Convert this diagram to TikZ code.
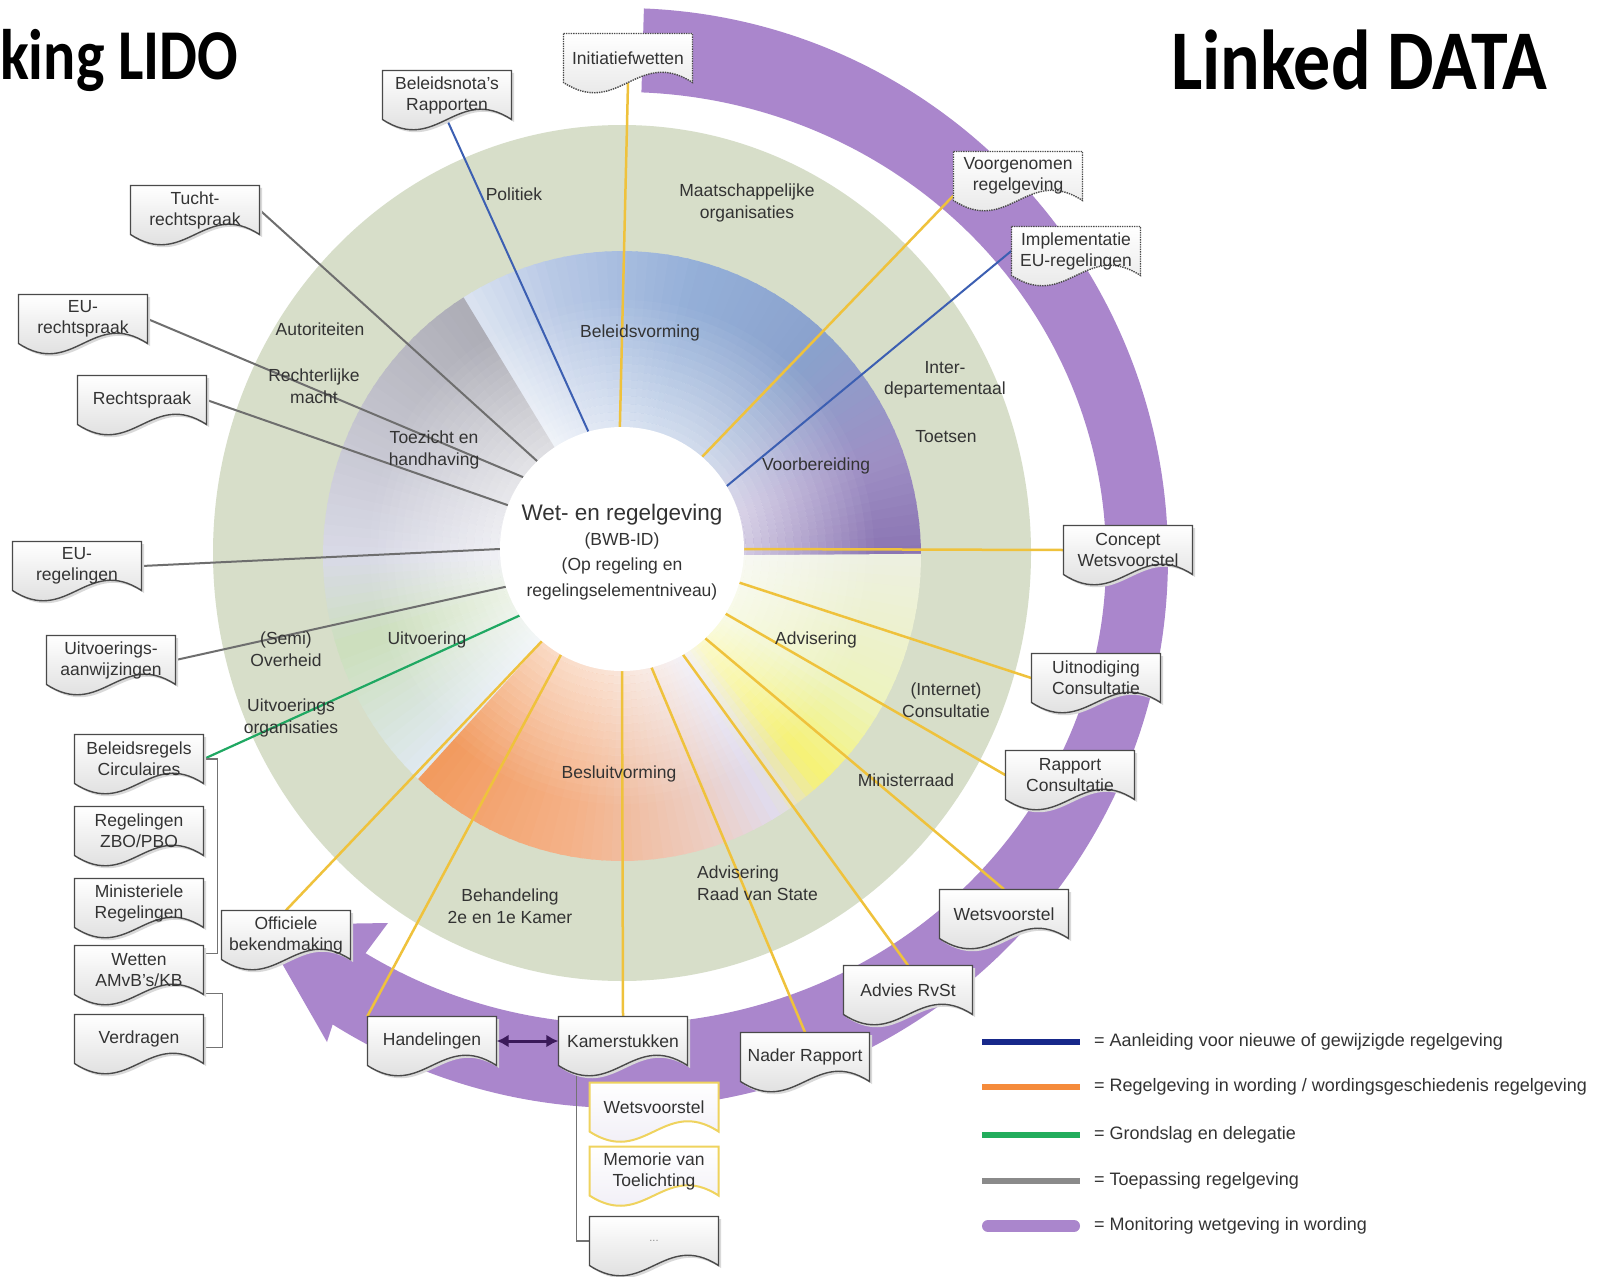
\documentclass[tikz,border=0pt]{standalone}
\usepackage{fontspec}
\setmainfont{Liberation Sans}
\newfontfamily\titlefont{Carlito}
\usetikzlibrary{arrows.meta}
\definecolor{ringgreen}{HTML}{D7DEC9}
\definecolor{monpurple}{HTML}{AA86CC}
\definecolor{linkyellow}{HTML}{EFC23C}
\definecolor{linkblue}{HTML}{3C5FB2}
\definecolor{linkgray}{HTML}{6E6E6E}
\definecolor{linkgreen}{HTML}{1FA862}
\definecolor{boxborder}{HTML}{4A4A4A}
\definecolor{docyellow}{HTML}{EFD35E}
\definecolor{lav}{HTML}{ECE9F3}
\definecolor{txt}{HTML}{333333}
\definecolor{legnavy}{HTML}{17288A}
\definecolor{legorange}{HTML}{F58B3B}
\definecolor{leggreen}{HTML}{22AD5C}
\definecolor{leggray}{HTML}{8A8A8A}
\definecolor{arrowpurple}{HTML}{3B1A5A}
\definecolor{sA}{HTML}{8A74B2}
\definecolor{sB}{HTML}{9E8FC4}
\definecolor{sC}{HTML}{8AA1CC}
\definecolor{sD}{HTML}{94AFD8}
\definecolor{sE}{HTML}{BACAE6}
\definecolor{sF}{HTML}{DCE4F1}
\definecolor{sG}{HTML}{ADADB6}
\definecolor{sH}{HTML}{C2C2CC}
\definecolor{sI}{HTML}{D9DAE7}
\definecolor{sJ}{HTML}{CCDFBC}
\definecolor{sK}{HTML}{E0E9F2}
\definecolor{sL}{HTML}{F29A5E}
\definecolor{sM}{HTML}{F4B289}
\definecolor{sN}{HTML}{ECD0C8}
\definecolor{sO}{HTML}{E0DCEF}
\definecolor{sP}{HTML}{F6F274}
\definecolor{sQ}{HTML}{EDF3BE}
\definecolor{sR}{HTML}{EDF0E0}
\pgfdeclarelayer{ringlayer}
\pgfdeclarelayer{linelayer}
\pgfsetlayers{ringlayer,linelayer,main}
\newcommand\boxfont{\fontsize{17.5}{21}\selectfont}
\newcommand\lblfont{\fontsize{17.5}{21.5}\selectfont}
\newcommand\legfont{\fontsize{18}{21}\selectfont}
\newcommand\ringseg[5]{%
  \foreach \i in {1,...,#5}{%
    \pgfmathsetmacro\segA{#1+(#2-#1)*(\i-1)/#5}%
    \pgfmathsetmacro\segB{#1+(#2-#1)*\i/#5+0.4}%
    \pgfmathtruncatemacro\segP{100*(\i-0.5)/#5}%
    \fill[#4!\segP!#3] (\segA:100pt) -- (\segA:299pt and 305pt) -- (\segB:299pt and 305pt) -- (\segB:100pt) -- cycle;
  }}
\newcommand\docbox[6]{%
  \begin{scope}[shift={(#4,-#5)}]
    \fill[#2] (-62,22) -- (67,22) -- (67,-27) .. controls (12.5,8.5) and (-7.5,-62.5) .. (-62,-27) -- cycle;
    \path[#1] (-64.5,24.5) -- (64.5,24.5) -- (64.5,-24.5) .. controls (10,11) and (-10,-60) .. (-64.5,-24.5) -- cycle;
  \end{scope}
  \node[boxtext] (#3) at (#4,-#5) {#6};
}
\begin{document}
\begin{tikzpicture}[x=1pt,y=1pt,
  docstyle/.style={draw=boxborder, line width=1.4pt, top color=white, bottom color=black!17},
  dotdoc/.style={draw=boxborder, densely dotted, line width=1.4pt, top color=white, bottom color=black!12},
  yeldoc/.style={draw=docyellow, line width=2pt, top color=white, bottom color=lav},
  shadowc/.style={fill=black!15},
  noshadow/.style={fill=none},
  boxtext/.style={minimum width=129pt, minimum height=49pt, inner sep=0pt, align=center, text=txt, font=\boxfont},
  lbl/.style={align=center, text=txt, font=\lblfont, inner sep=0pt},
  legtext/.style={anchor=west, text=txt, font=\legfont, inner sep=0pt},
  ylink/.style={draw=linkyellow, line width=2.5pt},
  blink/.style={draw=linkblue, line width=2pt},
  glink/.style={draw=linkgray, line width=2pt},
  grlink/.style={draw=linkgreen, line width=2.2pt},
  treeline/.style={draw=black!55, line width=1.3pt}]
\useasboundingbox (0,-1276) rectangle (1613,0);
\begin{pgfonlayer}{ringlayer}
  \fill[white] (0,-1276) rectangle (1613,0);
  \fill[ringgreen] (622,-553) ellipse[x radius=409pt, y radius=428pt];
  \begin{scope}[shift={(622,-556)}]
    \ringseg{0}{20}{sA}{sB}{10}
    \ringseg{20}{45}{sB}{sC}{12}
    \ringseg{45}{75}{sC}{sD}{15}
    \ringseg{75}{105}{sD}{sE}{15}
    \ringseg{105}{122}{sE}{sF}{9}
    \ringseg{122}{150}{sG}{sH}{14}
    \ringseg{150}{180}{sH}{sI}{15}
    \ringseg{180}{198}{sI}{sJ}{9}
    \ringseg{198}{227}{sJ}{sK}{15}
    \ringseg{227}{260}{sL}{sM}{16}
    \ringseg{260}{290}{sM}{sN}{15}
    \ringseg{290}{302}{sN}{sO}{6}
    \ringseg{302}{312}{sO}{sP}{5}
    \ringseg{312}{330}{sP}{sQ}{9}
    \ringseg{330}{360}{sQ}{sR}{15}
  \end{scope}
  \begin{scope}[shift={(622,-552)}]
    \foreach \rad in {100,108,...,244}{%
      \pgfmathsetmacro\radb{\rad+8}%
      \pgfmathsetmacro\op{max(0,0.6*(252-\rad)/130)}%
      \fill[white, opacity=\op, even odd rule] (0,0) circle[radius=\rad pt] (0,0) circle[radius=\radb pt];
    }
  \end{scope}
  \begin{scope}[shift={(622,-558)}]
    \fill[monpurple] (87.7:546pt and 550pt) arc[start angle=87.7, end angle=-122, x radius=546pt, y radius=550pt]
      -- (-295,-484) -- (-362,-367) -- (-234,-365)
      -- (-122:484pt and 466pt) arc[start angle=-122, end angle=87.7, x radius=484pt, y radius=466pt] -- cycle;
  \end{scope}
\end{pgfonlayer}

% centre
\node[circle, fill=white, minimum size=244pt, inner sep=0pt] (wet) at (622,-549) {};
\node[font=\fontsize{22.5}{26}\selectfont, text=txt, inner sep=0pt] (wt1) at (622,-515) {Wet- en regelgeving};
\node[font=\boxfont, text=txt, inner sep=0pt] (wt2) at (622,-541) {(BWB-ID)};
\node[font=\boxfont, text=txt, inner sep=0pt] (wt3) at (622,-566) {(Op regeling en};
\node[font=\boxfont, text=txt, inner sep=0pt] (wt4) at (622,-592) {regelingselementniveau)};

% ring labels
\node[lbl] (lpol) at (514,-194) {Politiek};
\node[lbl] (lmaat) at (747,-203) {Maatschappelijke\\organisaties};
\node[lbl] (linter) at (945,-380) {Inter-\\departementaal};
\node[lbl] (ltoets) at (946,-437) {Toetsen};
\node[lbl] (laut) at (320,-329) {Autoriteiten};
\node[lbl] (lrecht) at (314,-386) {Rechterlijke\\macht};
\node[lbl] (ltoez) at (434,-450) {Toezicht en\\handhaving};
\node[lbl] (lbel) at (640,-333) {Beleidsvorming};
\node[lbl] (lvoor) at (816,-466) {Voorbereiding};
\node[lbl] (ladv) at (816,-640) {Advisering};
\node[lbl] (lcons) at (946,-700) {(Internet)\\Consultatie};
\node[lbl] (lmin) at (906,-780) {Ministerraad};
\node[lbl] (lbesl) at (619,-774) {Besluitvorming};
\node[lbl, align=left, anchor=west] (lraad) at (697,-883) {Advisering\\Raad van State};
\node[lbl] (lbeh) at (510,-906) {Behandeling\\2e en 1e Kamer};
\node[lbl] (luitv) at (427,-640) {Uitvoering};
\node[lbl] (lsemi) at (286,-649) {(Semi)\\Overheid};
\node[lbl] (luorg) at (291,-718) {Uitvoerings\\organisaties};

% document boxes
\docbox{dotdoc}{noshadow}{init}{628}{58}{Initiatiefwetten}
\docbox{docstyle}{shadowc}{beleid}{447}{95}{Beleidsnota's\\Rapporten}
\docbox{docstyle}{shadowc}{tucht}{195}{210}{Tucht-\\rechtspraak}
\docbox{docstyle}{shadowc}{eurecht}{83}{319}{EU-\\rechtspraak}
\docbox{docstyle}{shadowc}{recht}{142}{400}{Rechtspraak}
\docbox{docstyle}{shadowc}{eureg}{77}{566}{EU-\\regelingen}
\docbox{docstyle}{shadowc}{uitvaanw}{111}{660}{Uitvoerings-\\aanwijzingen}
\docbox{docstyle}{shadowc}{belregels}{139}{759}{Beleidsregels\\Circulaires}
\docbox{docstyle}{shadowc}{zbo}{139}{831}{Regelingen\\ZBO/PBO}
\docbox{docstyle}{shadowc}{minreg}{139}{903}{Ministeriele\\Regelingen}
\docbox{docstyle}{shadowc}{wetten}{139}{970}{Wetten\\AMvB's/KB}
\docbox{docstyle}{shadowc}{verdr}{139}{1039}{Verdragen}
\docbox{docstyle}{shadowc}{offic}{286}{935}{Officiele\\bekendmaking}
\docbox{docstyle}{shadowc}{hand}{432}{1041}{Handelingen}
\docbox{docstyle}{shadowc}{kamer}{623}{1041}{Kamerstukken}
\docbox{yeldoc}{noshadow}{wvone}{654}{1107}{Wetsvoorstel}
\docbox{yeldoc}{noshadow}{mvt}{654}{1171}{Memorie van\\Toelichting}
\docbox{docstyle}{shadowc}{dots}{654}{1241}{{\fontsize{11}{12}\selectfont\color{black!45}...}}
\docbox{docstyle}{shadowc}{nader}{805}{1057}{Nader Rapport}
\docbox{docstyle}{shadowc}{advies}{908}{990}{Advies RvSt}
\docbox{docstyle}{shadowc}{wvtwo}{1004}{914}{Wetsvoorstel}
\docbox{docstyle}{shadowc}{rapport}{1070}{775}{Rapport\\Consultatie}
\docbox{docstyle}{shadowc}{uitnod}{1096}{678}{Uitnodiging\\Consultatie}
\docbox{docstyle}{shadowc}{concept}{1128}{550}{Concept\\Wetsvoorstel}
\docbox{dotdoc}{noshadow}{impl}{1076}{251}{Implementatie\\EU-regelingen}
\docbox{dotdoc}{noshadow}{voorg}{1018}{176}{Voorgenomen\\regelgeving}

% double arrow
\draw[{Latex[length=12pt,width=13pt]}-{Latex[length=12pt,width=13pt]}, line width=3pt, arrowpurple] (hand.east) -- (kamer.west);

% titles
\node[anchor=base west, inner sep=0pt, xscale=0.84, font=\titlefont\bfseries\fontsize{71.5}{80}\selectfont] (tleft) at (0,-80) {king LIDO};
\node[anchor=base west, inner sep=0pt, xscale=0.87, font=\titlefont\bfseries\fontsize{85}{95}\selectfont] (tright) at (1171,-90) {Linked DATA};

% legend
\draw[legnavy, line width=6pt] (982,-1042) -- (1080,-1042);
\draw[legorange, line width=6pt] (982,-1087) -- (1080,-1087);
\draw[leggreen, line width=6pt] (982,-1135) -- (1080,-1135);
\draw[leggray, line width=6pt] (982,-1181) -- (1080,-1181);
\draw[monpurple, line width=12pt, line cap=round] (988,-1226) -- (1074,-1226);
\node[legtext] (lg1) at (1094,-1042) {= Aanleiding voor nieuwe of gewijzigde regelgeving};
\node[legtext] (lg2) at (1094,-1087) {= Regelgeving in wording / wordingsgeschiedenis regelgeving};
\node[legtext] (lg3) at (1094,-1135) {= Grondslag en delegatie};
\node[legtext] (lg4) at (1094,-1181) {= Toepassing regelgeving};
\node[legtext] (lg5) at (1094,-1226) {= Monitoring wetgeving in wording};

\begin{pgfonlayer}{linelayer}
  \draw[blink] (beleid.south) -- (wet.106);
  \draw[ylink] (init.south) -- (wet.91);
  \draw[ylink] ([yshift=5]voorg.south west) -- (wet.49);
  \draw[blink] (impl.west) -- (wet.31);
  \draw[ylink] (concept.west) -- (wet.0);
  \draw[ylink] (uitnod.west) -- (wet.344);
  \draw[ylink] (rapport.west) -- (wet.328);
  \draw[ylink] (wvtwo.north) -- (wet.313);
  \draw[ylink] (advies.north) -- (wet.300);
  \draw[ylink] (nader.north) -- (wet.284);
  \draw[ylink] (kamer.north) -- (wet.270);
  \draw[ylink] (hand.north west) -- (wet.240);
  \draw[ylink] (offic.north) -- (wet.229);
  \draw[grlink] (belregels.east) -- (wet.213);
  \draw[glink] (uitvaanw.east) -- (wet.198);
  \draw[glink] (eureg.east) -- (wet.180);
  \draw[glink] (recht.east) -- (wet.159);
  \draw[glink] (eurecht.east) -- (wet.144);
  \draw[glink] (tucht.east) -- (wet.134);
  \draw[treeline] (belregels.east) -- ++(14,0) |- ([yshift=-8]wetten.north east);
  \draw[treeline] ([yshift=1]wetten.south east) -- ++(19,0) |- ([yshift=16]verdr.south east);
  \draw[treeline] ([xshift=18]kamer.south west) |- (dots.west);
\end{pgfonlayer}
\end{tikzpicture}
\end{document}
